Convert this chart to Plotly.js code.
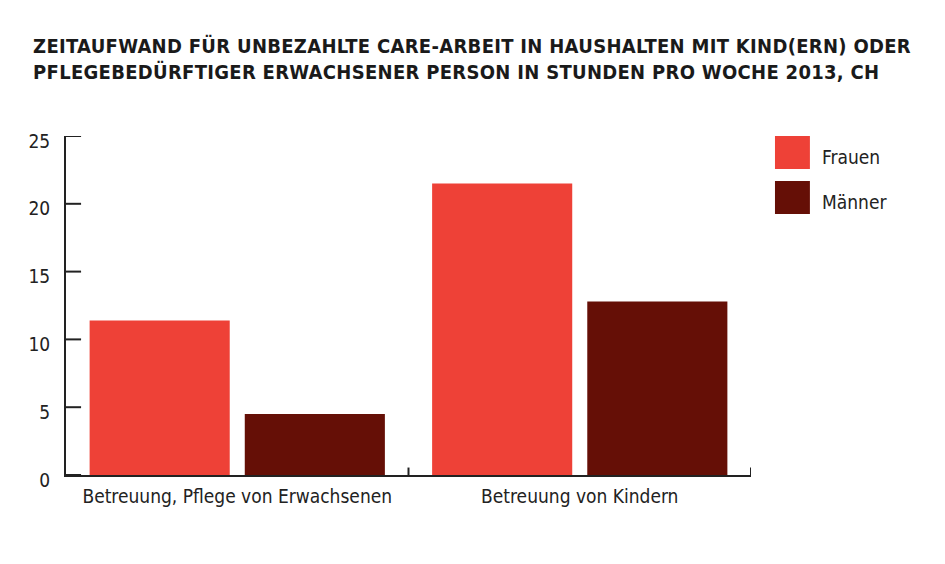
<!DOCTYPE html>
<html>
<head>
<meta charset="utf-8">
<script src="https://cdn.plot.ly/plotly-3.0.1.min.js"></script>
<style>html,body{margin:0;padding:0;background:#fff;}#chart{width:945px;height:564px;}
.gtitle{letter-spacing:0.3px;}</style>
</head>
<body>
<div id="chart"></div>
<script>
const categories = ["Betreuung, Pflege von Erwachsenen", "Betreuung von Kindern"];
const seriesNames = ["Frauen", "Männer"];
const frauen = [11.4, 21.5];
const maenner = [4.5, 12.8];
const seriesColors = ["#EE4137", "#650F06"];
const yTicks = [0, 5, 10, 15, 20, 25];
const titleText = "ZEITAUFWAND FÜR UNBEZAHLTE CARE-ARBEIT IN HAUSHALTEN MIT KIND(ERN) ODER<br>PFLEGEBEDÜRFTIGER ERWACHSENER PERSON IN STUNDEN PRO WOCHE 2013, CH";

const font = "DejaVu Sans Condensed, Liberation Sans Narrow, sans-serif";
const values = [frauen, maenner];
const traces = seriesNames.map((n, i) => ({
  type: "bar", name: n, x: categories, y: values[i],
  marker: {color: seriesColors[i]}, showlegend: false, hoverinfo: "skip"
}));

const axisColor = "#222";
const shapes = [], annotations = [];
// y-axis inside tick marks
yTicks.forEach(v => {
  shapes.push({type: "line", xref: "paper", yref: "y", x0: 0, x1: 0.022, y0: v, y1: v,
    line: {color: axisColor, width: 2}});
});
// x-axis tick marks at category boundaries
[0.5, 1.5].forEach(b => {
  shapes.push({type: "line", xref: "x", yref: "paper", x0: b, x1: b, y0: 0, y1: 0.022,
    line: {color: axisColor, width: 2}});
});
// legend
seriesNames.forEach((n, i) => {
  const y0 = 1 - i * 0.133;
  shapes.push({type: "rect", xref: "paper", yref: "paper",
    x0: 1.035, x1: 1.086, y0: y0 - 0.097, y1: y0,
    fillcolor: seriesColors[i], line: {width: 0}});
  annotations.push({xref: "paper", yref: "paper", x: 1.1, y: y0 - 0.062,
    xanchor: "left", yanchor: "middle", showarrow: false, text: n,
    font: {family: font, size: 19, color: "#222"}});
});

const layout = {
  width: 945, height: 564,
  margin: {l: 66, r: 194, t: 136, b: 89},
  paper_bgcolor: "#fff", plot_bgcolor: "#fff",
  barmode: "group", bargap: 0.094, bargroupgap: 0.097,
  title: {text: titleText, xref: "container", yref: "container",
    x: 0.035, xanchor: "left", y: 0.906, yanchor: "top",
    font: {family: font, size: 20, color: "#1a1a1a", weight: "bold"}},
  xaxis: {type: "category", range: [-0.5, 1.5], showline: true, linecolor: axisColor, linewidth: 2,
    ticks: "", showgrid: false, zeroline: false, ticklabelstandoff: 3,
    tickfont: {family: font, size: 19, color: "#222"}},
  yaxis: {range: [0, 25], tickvals: yTicks, showline: true, linecolor: axisColor, linewidth: 2,
    ticks: "", showgrid: false, zeroline: false, ticklabelshift: 5, ticklabelstandoff: 10,
    tickfont: {family: font, size: 19, color: "#222"}},
  shapes: shapes, annotations: annotations
};
Plotly.newPlot("chart", traces, layout, {displayModeBar: false, staticPlot: true});
</script>
</body>
</html>
